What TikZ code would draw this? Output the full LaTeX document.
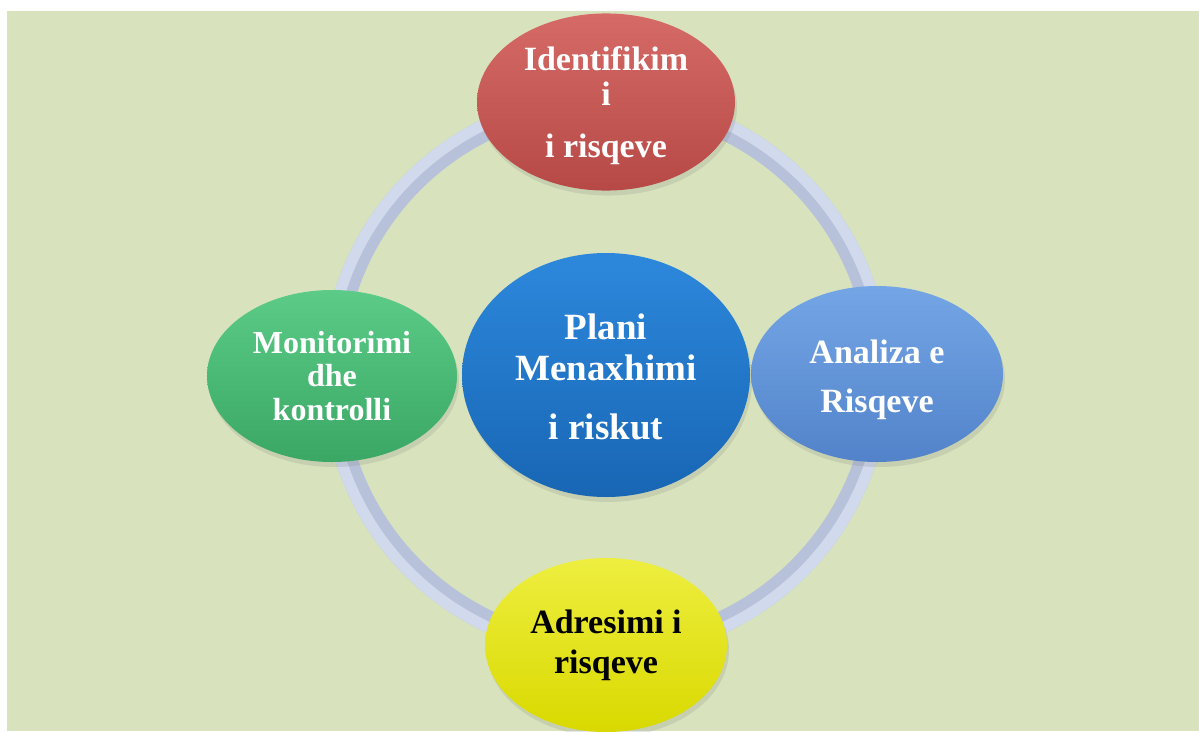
\documentclass[tikz,border=0pt]{standalone}
\usepackage{fontspec}
\setmainfont{Liberation Serif}
\usetikzlibrary{shapes.geometric,shadows}
\definecolor{bg}{HTML}{D8E3BD}
\definecolor{ringD}{HTML}{B7C1DA}
\definecolor{ringL}{HTML}{D1D9EC}
\definecolor{redB}{HTML}{C0504D}
\definecolor{redL}{HTML}{D56A66}
\definecolor{redD}{HTML}{B64946}
\definecolor{grnB}{HTML}{42B470}
\definecolor{grnL}{HTML}{5CCB88}
\definecolor{grnD}{HTML}{3AA864}
\definecolor{bluB}{HTML}{5C8FD5}
\definecolor{bluL}{HTML}{74A6E6}
\definecolor{bluD}{HTML}{5283CA}
\definecolor{cenB}{HTML}{1C72C6}
\definecolor{cenL}{HTML}{2D88DC}
\definecolor{cenD}{HTML}{1866B4}
\definecolor{yelB}{HTML}{E4E400}
\definecolor{yelL}{HTML}{EEEE40}
\definecolor{yelD}{HTML}{D9D900}
\begin{document}
\begin{tikzpicture}[x=1pt,y=-1pt,
  blob/.style={ellipse, inner sep=0pt, align=center, text=white,
    font=\bfseries\fontsize{34}{35}\selectfont,
    drop shadow={opacity=0.2, shadow xshift=2pt, shadow yshift=-5pt, fill=black!50}},
  ringdark/.style={draw=ringD, line width=22pt},
  ringlight/.style={draw=ringL, line width=11pt},
]
\useasboundingbox (0,0) rectangle (1199,731);
\fill[white] (0,0) rectangle (1199,731);
\fill[bg] (7,11) rectangle (1199,731);

\coordinate (c) at (606,375);
% ring segments
\foreach \a/\b in {-100/10, -10/100, 80/190, 170/280}{
  \draw[ringdark] (c) ++(\a:273) arc[start angle=\a, end angle=\b, radius=273];
  \draw[ringlight] (c) ++(\a:278.5) arc[start angle=\a, end angle=\b, radius=278.5];
}

\node[blob, minimum width=258, minimum height=172, top color=redL, middle color=redB, bottom color=redD] (ident) at (606,102)
  {\rule{0pt}{31pt}Identifikim\\i\\[17pt]i risqeve};
\node[blob, minimum width=250, minimum height=172, font=\bfseries\fontsize{32}{33.5}\selectfont,
  top color=grnL, middle color=grnB, bottom color=grnD] (monit) at (332,376)
  {Monitorimi\\dhe\\kontrolli};
\node[blob, minimum width=252, minimum height=176, font=\bfseries\fontsize{34}{49}\selectfont,
  top color=bluL, middle color=bluB, bottom color=bluD] (anal) at (877,374)
  {\rule{0pt}{35pt}Analiza e\\Risqeve};
\node[blob, minimum width=242, minimum height=174, text=black, font=\bfseries\fontsize{34}{40}\selectfont,
  top color=yelL, middle color=yelB, bottom color=yelD] (adres) at (606,645)
  {Adresimi i\\risqeve};
\node[blob, minimum width=288, minimum height=244, font=\bfseries\fontsize{37}{41}\selectfont,
  top color=cenL, middle color=cenB, bottom color=cenD] (plan) at (c)
  {\rule{0pt}{29pt}Plani\\Menaxhimi\\[18pt]i riskut};
\end{tikzpicture}
\end{document}
